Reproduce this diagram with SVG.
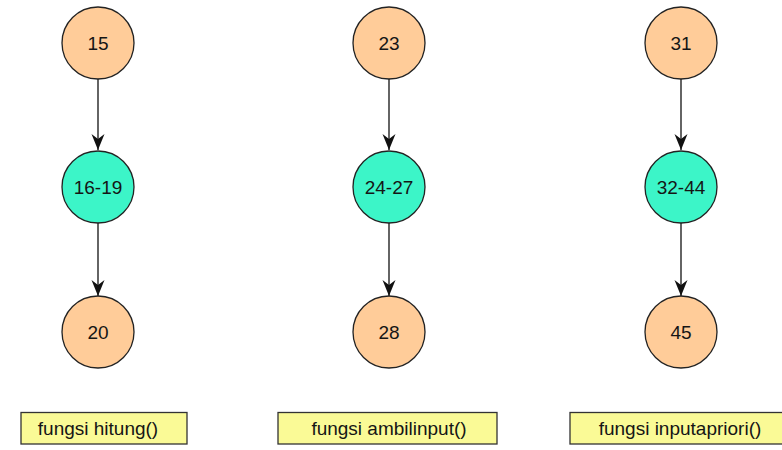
<svg xmlns="http://www.w3.org/2000/svg" width="782" height="450" viewBox="0 0 782 450">
  <style>
    .node circle { stroke: #222; stroke-width: 1.3; }
    .io circle { fill: #FFCC99; }
    .body circle { fill: #3CF5C8; }
    .node text, .label text { font-family: "Liberation Sans", Arial, sans-serif; font-size: 19px; fill: #151515; text-anchor: middle; }
    .label rect { fill: #FAFA96; stroke: #333; stroke-width: 1.3; }
    #edges line { stroke: #111; stroke-width: 1.3; }
  </style>
  <defs>
    <!-- notched arrowhead, tip at the line end -->
    <marker id="arrow" markerUnits="userSpaceOnUse" markerWidth="18" markerHeight="16" viewBox="-17 -8 18 16" refX="0" refY="0" orient="auto">
      <path d="M0,0 L-16,-6.5 L-11,0 L-16,6.5 Z" fill="#111"/>
    </marker>
  </defs>
  <rect width="782" height="450" fill="#ffffff"/>

  <!-- connectors -->
  <g id="edges">
    <line x1="98" y1="79" x2="98" y2="150" marker-end="url(#arrow)"/>
    <line x1="98" y1="223" x2="98" y2="296" marker-end="url(#arrow)"/>
    <line x1="389" y1="79" x2="389" y2="150" marker-end="url(#arrow)"/>
    <line x1="389" y1="223" x2="389" y2="296" marker-end="url(#arrow)"/>
    <line x1="681" y1="79" x2="681" y2="150" marker-end="url(#arrow)"/>
    <line x1="681" y1="223" x2="681" y2="296" marker-end="url(#arrow)"/>
  </g>

  <!-- column 1 -->
  <g id="n15" class="node io"><circle cx="98" cy="43" r="36"/><text x="98" y="50">15</text></g>
  <g id="n16-19" class="node body"><circle cx="98" cy="187" r="36"/><text x="98" y="194">16-19</text></g>
  <g id="n20" class="node io"><circle cx="98" cy="332" r="36"/><text x="98" y="339">20</text></g>
  <g id="label-hitung" class="label"><rect x="21" y="412.5" width="166" height="31.5"/><text x="98" y="434.5">fungsi hitung()</text></g>

  <!-- column 2 -->
  <g id="n23" class="node io"><circle cx="389" cy="43" r="36"/><text x="389" y="50">23</text></g>
  <g id="n24-27" class="node body"><circle cx="389" cy="187" r="36"/><text x="389" y="194">24-27</text></g>
  <g id="n28" class="node io"><circle cx="389" cy="332" r="36"/><text x="389" y="339">28</text></g>
  <g id="label-ambilinput" class="label"><rect x="278" y="412.5" width="219" height="31.5"/><text x="389" y="434.5">fungsi ambilinput()</text></g>

  <!-- column 3 -->
  <g id="n31" class="node io"><circle cx="681" cy="43" r="36"/><text x="681" y="50">31</text></g>
  <g id="n32-44" class="node body"><circle cx="681" cy="187" r="36"/><text x="681" y="194">32-44</text></g>
  <g id="n45" class="node io"><circle cx="681" cy="332" r="36"/><text x="681" y="339">45</text></g>
  <g id="label-inputapriori" class="label"><rect x="570" y="412.5" width="220" height="31.5"/><text x="680" y="434.5">fungsi inputapriori()</text></g>
</svg>
